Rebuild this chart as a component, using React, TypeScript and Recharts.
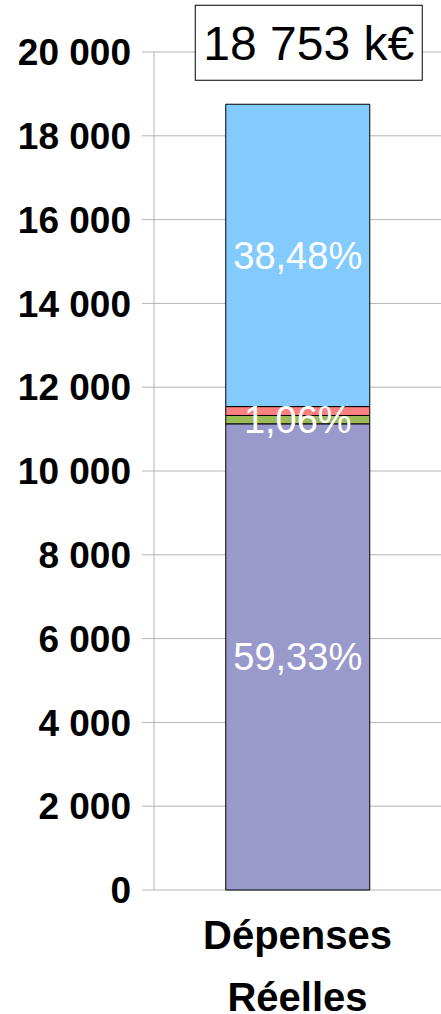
import React from "react";
import {
  BarChart,
  Bar,
  XAxis,
  YAxis,
  CartesianGrid,
  LabelList,
} from "recharts";

// values in k€
const categories = ["Dépenses Réelles"];
const fonctionnement = [11126];
const fonctionnementPct = ["59,33%"];
const financier = [199];
const financierPct = ["1,06%"];
const exceptionnel = [212];
const investissement = [7216];
const investissementPct = ["38,48%"];
const totalLabel = ["18 753 k€"];
const yTicks = [0, 2000, 4000, 6000, 8000, 10000, 12000, 14000, 16000, 18000, 20000];

const FONT = "'Liberation Sans', Arial, sans-serif";

const data = categories.map((name, i) => ({
  name,
  fonctionnement: fonctionnement[i],
  fonctionnementPct: fonctionnementPct[i],
  financier: financier[i],
  financierPct: financierPct[i],
  exceptionnel: exceptionnel[i],
  investissement: investissement[i],
  investissementPct: investissementPct[i],
  total: totalLabel[i],
}));

function formatThousands(v: number): string {
  return v.toString().replace(/\B(?=(\d{3})+(?!\d))/g, " ");
}

function CategoryTick(props: any) {
  const { x, y, payload } = props;
  const words = String(payload.value).split(" ");
  return (
    <g>
      {words.map((w: string, i: number) => (
        <text
          key={i}
          x={x}
          y={y + 57 + i * 62}
          textAnchor="middle"
          fill="#000"
          fontFamily={FONT}
          fontWeight="bold"
          fontSize={40}
        >
          {w}
        </text>
      ))}
    </g>
  );
}

function TotalBox(props: any) {
  const { x, y, width, value } = props;
  const cx = x + width / 2 + 11;
  const boxW = 227;
  const boxH = 75;
  const top = y - 24 - boxH;
  return (
    <g>
      <rect
        x={cx - boxW / 2}
        y={top}
        width={boxW}
        height={boxH}
        fill="#fff"
        stroke="#000"
        strokeWidth={1}
      />
      <text
        x={cx}
        y={top + 55}
        textAnchor="middle"
        fill="#000"
        fontFamily={FONT}
        fontSize={48}
      >
        {value}
      </text>
    </g>
  );
}

const pctLabelStyle = {
  fill: "#fff",
  fontFamily: FONT,
  fontSize: 38,
};

export default function App() {
  return (
    <div style={{ position: "absolute", left: 0, top: 0, background: "#fff" }}>
      <BarChart
        width={441}
        height={1014}
        data={data}
        margin={{ top: 52, right: 0, left: 0, bottom: 0 }}
        barCategoryGap="25%"
      >
        <CartesianGrid vertical={false} stroke="#b3b3b3" />
        <XAxis
          dataKey="name"
          height={124}
          axisLine={false}
          tickLine={false}
          tickSize={0}
          tick={<CategoryTick />}
          interval={0}
        />
        <YAxis
          width={154}
          domain={[0, 20000]}
          ticks={yTicks}
          interval={0}
          tickFormatter={formatThousands}
          axisLine={{ stroke: "#b3b3b3" }}
          tickLine={{ stroke: "#b3b3b3" }}
          tickSize={12}
          tickMargin={11}
          tick={{ fill: "#000", fontFamily: FONT, fontWeight: "bold", fontSize: 37 }}
        />
        <Bar
          dataKey="fonctionnement"
          stackId="a"
          fill="#9999cc"
          stroke="#000"
          strokeWidth={1}
          isAnimationActive={false}
        >
          <LabelList dataKey="fonctionnementPct" position="center" style={pctLabelStyle} />
        </Bar>
        <Bar
          dataKey="financier"
          stackId="a"
          fill="#9bbb59"
          stroke="#000"
          strokeWidth={1}
          isAnimationActive={false}
        >
          <LabelList dataKey="financierPct" position="center" style={pctLabelStyle} />
        </Bar>
        <Bar
          dataKey="exceptionnel"
          stackId="a"
          fill="#ff8080"
          stroke="#000"
          strokeWidth={1}
          isAnimationActive={false}
        />
        <Bar
          dataKey="investissement"
          stackId="a"
          fill="#83caff"
          stroke="#000"
          strokeWidth={1}
          isAnimationActive={false}
        >
          <LabelList dataKey="investissementPct" position="center" style={pctLabelStyle} />
          <LabelList dataKey="total" content={<TotalBox />} />
        </Bar>
      </BarChart>
    </div>
  );
}
